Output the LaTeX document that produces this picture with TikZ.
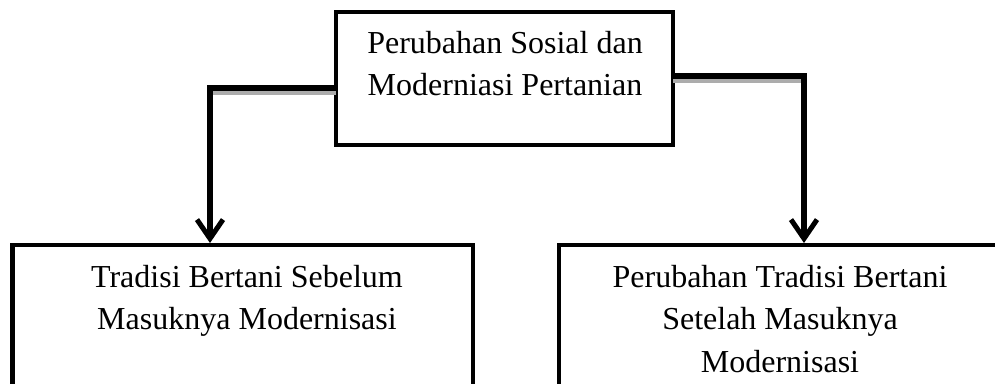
\documentclass[tikz,border=0pt]{standalone}
\usepackage{fontspec}
\setmainfont{Liberation Serif}
\usetikzlibrary{arrows.meta}
\begin{document}
\begin{tikzpicture}[x=1pt,y=-1pt,
  boxnode/.style={draw=black,line width=4.5pt,rectangle,inner sep=0pt,outer sep=0pt},
  label/.style={inner sep=0pt,outer sep=0pt,align=center,anchor=north,
    font=\fontsize{32}{42.5}\selectfont},
  conn/.style={line width=5.7pt,draw=black,-{Straight Barb[length=19pt,width=26pt,line width=5pt]}},
  connshadow/.style={line width=5.7pt,draw=gray!65}]
\useasboundingbox (0,0) rectangle (995,383);
\clip (0,0) rectangle (995,383);
\fill[white] (0,0) rectangle (995,383);
% boxes
\node[boxnode,minimum width=337pt,minimum height=133pt] (top) at (504.5,78.5) {};
\node[boxnode,minimum width=460.5pt,minimum height=160pt] (left) at (242.75,325) {};
\node[boxnode,minimum width=442pt,minimum height=160pt] (right) at (780,325) {};
% texts
\node[label] (ttop) at (505,31) {Perubahan Sosial dan\\Moderniasi Pertanian};
\node[label] (tleft) at (247,265) {Tradisi Bertani Sebelum\\Masuknya Modernisasi};
\node[label] (tright) at (780,265) {Perubahan Tradisi Bertani\\Setelah Masuknya\\Modernisasi};
% connector coordinates
\coordinate (lc) at (210,88);
\coordinate (rc) at (804,76);
\coordinate (lcs) at (210,92);
\coordinate (rcs) at (804,80);
% shadows
\draw[connshadow] (top.west |- lcs) -- (lcs) -- ++(0,20);
\draw[connshadow] (top.east |- rcs) -- (rcs) -- ++(0,20);
% connectors
\draw[conn] (top.west |- lc) -- (lc) -- ([yshift=2pt]left.north -| lc);
\draw[conn] (top.east |- rc) -- (rc) -- ([yshift=2pt]right.north -| rc);
\end{tikzpicture}
\end{document}
